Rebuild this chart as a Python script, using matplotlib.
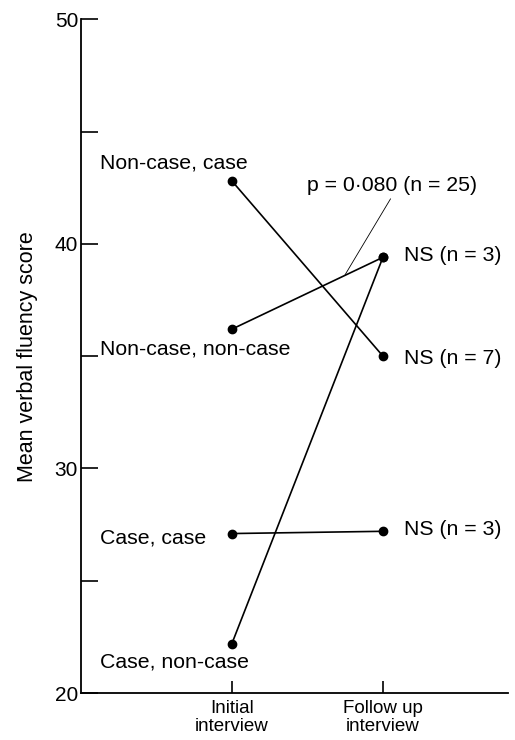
import matplotlib
matplotlib.use("Agg")
import matplotlib.pyplot as plt

plt.rcParams.update({"font.family": ["Liberation Sans", "DejaVu Sans"]})

# group labels and mean scores at (initial, follow-up)
groups = ["Non-case, case", "Non-case, non-case", "Case, case", "Case, non-case"]
initial = [42.8, 36.2, 27.1, 22.2]
follow_up = [35.0, 39.4, 27.2, 39.4]
group_label_y = [43.6, 35.3, 26.9, 21.4]

right_labels = ["NS (n = 3)", "NS (n = 7)", "NS (n = 3)"]
right_label_y = [39.5, 34.9, 27.3]

p_text = "p = 0\u00b7080 (n = 25)"
xticklabels = ["Initial\ninterview", "Follow up\ninterview"]

fig = plt.figure(figsize=(5.15, 7.4), dpi=100)
ax = fig.add_axes([0.157, 0.0635, 0.83, 0.9105])

for a, b in zip(initial, follow_up):
    ax.plot([1, 2], [a, b], color="black", lw=1.2, marker="o", ms=6,
            solid_capstyle="round", zorder=3)

fs = 15.3
for name, y in zip(groups, group_label_y):
    ax.text(0.125, y, name, fontsize=fs, va="center", ha="left")

for name, y in zip(right_labels, right_label_y):
    ax.text(2.14, y, name, fontsize=fs, va="center", ha="left")

ax.text(1.5, 42.6, p_text, fontsize=fs, va="center", ha="left")
ax.plot([2.05, 1.75], [42.0, 38.63], color="black", lw=0.6)

ax.set_xlim(0, 2.83)
ax.set_ylim(20, 50)
ax.set_xticks([1, 2])
ax.set_xticklabels(xticklabels, fontsize=13.5, linespacing=1.05)
ax.set_yticks([20, 30, 40, 50])
ax.set_yticks([25, 35, 45], minor=True)
ax.tick_params(axis="y", which="both", direction="in", length=12, width=1.2,
               labelsize=15, pad=2)
ax.tick_params(axis="x", direction="in", length=9, width=1.2, pad=5)
for s in ["top", "right"]:
    ax.spines[s].set_visible(False)
for s in ["left", "bottom"]:
    ax.spines[s].set_linewidth(1.3)
ax.set_ylabel("Mean verbal fluency score", fontsize=15.5, labelpad=12)

fig.savefig("out.png", dpi=100)
